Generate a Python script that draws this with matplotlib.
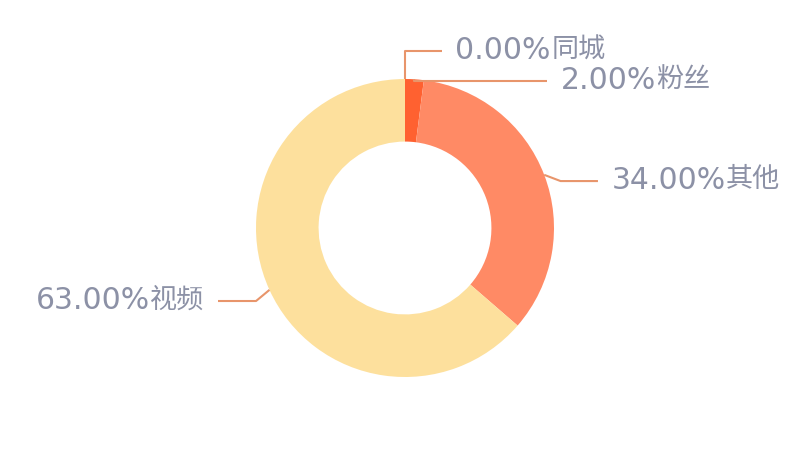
import numpy as np
import matplotlib
matplotlib.use("Agg")
import matplotlib.pyplot as plt

labels = ["同城", "粉丝", "其他", "视频"]
values = [0.0, 2.0, 34.0, 63.0]
colors = ["#f2733e", "#ff6130", "#ff8a65", "#fde09d"]

# label layout (data units, radius = 1)
label_y = [1.188, 0.987, 0.315, -0.49]
line_end_x = [0.248, 0.953, 1.295, -1.255]
elbow_dx = [0.0, 0.0, 0.11, -0.09]

W, H = 800, 452
cx, cy, R = 405, 229, 149
TXT = "#8c91a6"

fig = plt.figure(figsize=(W / 100, H / 100), dpi=100)
ax = fig.add_axes([0, 0, 1, 1])

ax.pie(values, colors=colors, startangle=90, counterclock=False, radius=1.0,
       wedgeprops=dict(width=0.42, edgecolor="none"))
ax.set_aspect("auto")
ax.set_xlim(-cx / R, (W - cx) / R)
ax.set_ylim(-(H - cy) / R, cy / R)
ax.axis("off")

total = sum(values)
start = 0.0
for i, (lab, v) in enumerate(zip(labels, values)):
    mid = (start + v / 2) / total * 2 * np.pi
    start += v
    ax_x, ax_y = np.sin(mid), np.cos(mid)
    ex = ax_x + elbow_dx[i]
    ly = label_y[i]
    ax.plot([ax_x, ex, line_end_x[i]], [ax_y, ly, ly], color="#e8956b",
            lw=1.5, solid_capstyle="butt")
    right = line_end_x[i] > 0
    tx = line_end_x[i] + (0.09 if right else -0.09)
    ty = ly + 0.01
    num = f"{v:.2f}%"
    if right:
        t1 = ax.text(tx, ty, num, ha="left", va="center", fontsize=21.5,
                     color=TXT, family="DejaVu Sans")
        ax.annotate(lab, xy=(1, 0.5), xycoords=t1, xytext=(0.5, 0.5),
                    textcoords="offset points", ha="left", va="center",
                    fontsize=19.5, color=TXT, family="Noto Sans CJK SC")
    else:
        t2 = ax.text(tx, ty + 0.003, lab, ha="right", va="center", fontsize=19.5,
                     color=TXT, family="Noto Sans CJK SC")
        ax.annotate(num, xy=(0, 0.5), xycoords=t2, xytext=(-0.5, -0.5),
                    textcoords="offset points", ha="right", va="center",
                    fontsize=21.5, color=TXT, family="DejaVu Sans")

fig.savefig("out.png", dpi=100)
